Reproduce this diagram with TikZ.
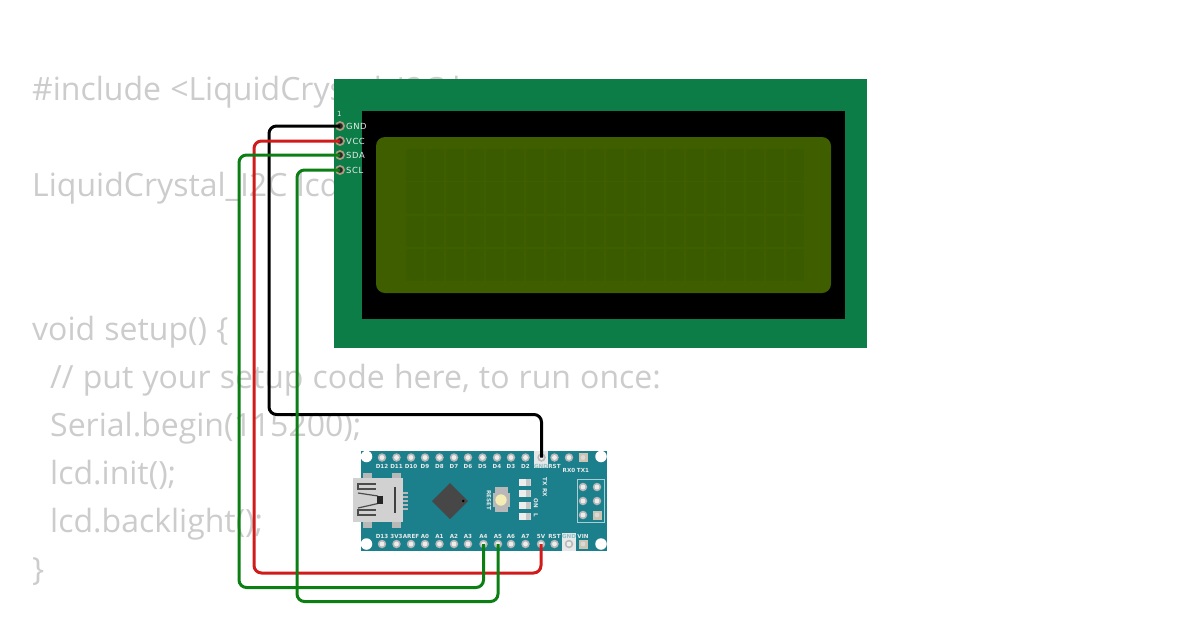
\documentclass[tikz,border=0pt]{standalone}
\usepackage{fontspec}
\setmainfont[WordSpace=1.1]{Open Sans}
\newfontfamily\pinfont{DejaVu Sans}
\newfontfamily\pinfontwide[LetterSpace=7]{DejaVu Sans}
\definecolor{codegrey}{HTML}{CCCCCC}
\definecolor{lcdgreen}{HTML}{0C7D46}
\definecolor{lcdscreen}{HTML}{3F5E00}
\definecolor{lcdcell}{HTML}{3B5B00}
\definecolor{nanoteal}{HTML}{1B7F8C}
\definecolor{wirered}{HTML}{D11A1A}
\definecolor{wiregreen}{HTML}{0B7F14}
\definecolor{padtan}{HTML}{A89C7E}
\definecolor{buttoncream}{HTML}{F3EDB4}
\definecolor{highlight}{HTML}{E4E8E8}
\definecolor{icspline}{HTML}{A9CFD6}
\definecolor{hiddentext}{HTML}{8FBFC6}
\tikzset{
  x=1pt,y=-1pt,
  codeline/.style={anchor=base west,inner sep=0pt,text=codegrey,font=\fontsize{32}{32}\selectfont},
  lcdpin/.style={circle,draw=padtan,fill=black!85,line width=1.8pt,minimum size=8pt,inner sep=0pt},
  lcdlabel/.style={anchor=west,inner sep=0pt,text=white!92!black,font=\pinfontwide\fontsize{8.4}{8}\selectfont},
  nanopin/.style={circle,fill=white!72!black,minimum size=8.5pt,inner sep=0pt,path picture={\fill[white!93!black] (path picture bounding box.center) circle (2.4pt);}},
  nanolabel/.style={inner sep=0pt,text=white!92!black,font=\pinfont\bfseries\fontsize{5.6}{6}\selectfont},
  squarepad/.style={rectangle,fill=padtan!60!white,minimum size=9pt,inner sep=0pt,path picture={\fill[white!85!black] (path picture bounding box.center) circle (2.4pt);}},
  cornerhole/.style={circle,fill=white,minimum size=11.5pt,inner sep=0pt},
  wire/.style={line width=3pt,rounded corners=7.5pt},
  ledbody/.style={rectangle,fill=white!93!black,minimum width=12pt,minimum height=7pt,inner sep=0pt,path picture={\fill[white!78!black] ([xshift=7pt]path picture bounding box.south west) rectangle (path picture bounding box.north east);}},
  whitelabel/.style={inner sep=0pt,text=white!92!black,font=\pinfont\bfseries\fontsize{5.6}{6}\selectfont},
}
\begin{document}
\begin{tikzpicture}
\useasboundingbox (0,0) rectangle (1200,630);
\fill[white] (0,0) rectangle (1200,630);

% code behind the parts
\node[codeline] (c1) at (32,100) {\#include <LiquidCrystal\_I2C.h>};
\node[codeline] (c2) at (32,196) {LiquidCrystal\_I2C lcd};
\node[codeline] (c3) at (32,340) {void setup() \{};
\node[codeline] (c4) at (50,388) {// put your setup code here, to run once:};
\node[codeline] (c5) at (50,436) {Serial.begin(115200);};
\node[codeline] (c6) at (50,484) {lcd.init();};
\node[codeline] (c7) at (50,532) {lcd.backlight();};
\node[codeline] (c8) at (32,580) {\}};

% LCD
\fill[lcdgreen] (334,79) rectangle (867,348);
\fill[black] (362,111) rectangle (845,319);
\fill[lcdscreen,rounded corners=9pt] (376,137) rectangle (831,293);
\foreach \r in {0,1,2,3} \foreach \c in {0,...,19}
  \fill[lcdcell] ({406+20*\c},{149+33.4*\r}) rectangle +(18,31.5);
\node[lcdlabel,font=\pinfont\fontsize{7}{7}\selectfont] (one) at (337,114) {1};
\node[lcdpin] (lgnd) at (340,126) {};
\node[lcdpin] (lvcc) at (340,141) {};
\node[lcdpin] (lsda) at (340,155) {};
\node[lcdpin] (lscl) at (340,170) {};
\node[lcdlabel] at (346,126) {GND};
\node[lcdlabel] at (346,141) {VCC};
\node[lcdlabel] at (346,155) {SDA};
\node[lcdlabel] at (346,170) {SCL};

% Nano board
\fill[nanoteal] (361,451) rectangle (607,551);
\fill[highlight] (533.5,451) rectangle (548,468);
\fill[highlight] (562,533) rectangle (576,551);
\node[cornerhole] at (366.5,456.5) {};
\node[cornerhole] at (366.5,544) {};
\node[cornerhole] at (601,456.5) {};
\node[cornerhole] at (601,544) {};

% top pins
\foreach \n/\x/\t in {d12/382/D12,d11/396.5/D11,d10/411/D10,d9/425/D9,d8/439.5/D8,d7/454/D7,d6/468/D6,d5/482.5/D5,d4/497/D4,d3/511/D3,d2/525.5/D2,trst/554.5/RST}{
  \node[nanopin] (\n) at (\x,457.5) {};
  \node[nanolabel] at (\x,466) {\t};
}
\node[nanopin] (ngnd) at (541.5,457.5) {};
\node[nanolabel,text=hiddentext] at (541,466) {GND};
\node[nanopin] (rx) at (569,457.5) {};
\node[squarepad] (tx) at (583,457.5) {};
\node[nanolabel] at (569,470.5) {RX0};
\node[nanolabel] at (583,470.5) {TX1};

% bottom pins
\foreach \n/\x/\t in {d13/382/D13,v33/396.5/3V3,aref/411/AREF,a0/425/A0,a1/439.5/A1,a2/454/A2,a3/468/A3,a4/483.5/A4,a5/498/A5,a6/511/A6,a7/525.5/A7,v5/541/5V,brst/554.5/RST}{
  \node[nanopin] (\n) at (\x,544) {};
  \node[nanolabel] at (\x,536) {\t};
}
\node[nanopin] (bgnd) at (569,544) {};
\node[nanolabel,text=hiddentext] at (569,536) {GND};
\node[squarepad] (vin) at (583,544) {};
\node[nanolabel] at (583,536) {VIN};

% ICSP header
\draw[icspline,line width=0.7pt] (577,479.5) rectangle (604,522);
\foreach \x in {583,597}\foreach \y in {487,501}
  \node[nanopin] at (\x,\y) {};
\node[nanopin] at (583,515) {};
\node[squarepad] at (597,515) {};

% USB connector
\fill[white!72!black] (362.5,473) rectangle (372,528);
\fill[white!72!black] (392,473) rectangle (401,528);
\foreach \y in {491.5,495.5,499.5,503.5,507.5}
  \fill[white!72!black] (403,\y) rectangle (408,\y+2.4);
\fill[white!82!black] (353,478) rectangle (403,522);
\draw[black!75,line width=1.3pt] (395,487) -- (395,513);
\draw[black!70,line width=1.2pt] (376,484) -- (358,484) -- (358,489) -- (376,489);
\draw[black!70,line width=1.2pt] (376,510) -- (358,510) -- (358,515) -- (376,515);
\draw[black!70,line width=1.2pt] (358,493) -- (378,496);
\draw[black!70,line width=1.2pt] (378,503.5) -- (358,508);
\fill[black!85] (377,496) rectangle (383,504);

% chip
\fill[black!72] (450,483) -- (468,501) -- (450,519) -- (432,501) -- cycle;
\fill[black] (463.3,501) circle (1.4pt);

% reset button
\fill[white!72!black] (493,493) rectangle (510,507);
\fill[white!72!black] (495,487) rectangle (508,512);
\fill[buttoncream] (501,500) circle (5.7pt);
\node[whitelabel,rotate=-90] at (489,500) {RESET};

% LEDs
\node[ledbody] at (524.5,482) {};
\node[ledbody] at (524.5,493.5) {};
\node[ledbody] at (524.5,505) {};
\node[ledbody] at (524.5,516.5) {};
\node[whitelabel,rotate=-90] at (545,482) {TX};
\node[whitelabel,rotate=-90] at (545,492.5) {RX};
\node[whitelabel,rotate=-90] at (536,503) {ON};
\node[whitelabel,rotate=-90] at (536,515) {L};

% wires
\coordinate (bk) at (269,414.5);
\coordinate (bv) at (254,573);
\coordinate (bd) at (239,587.5);
\coordinate (bc) at (297,601.5);
\draw[wire,black] (lgnd.center) -| (bk) -| (ngnd.center);
\draw[wire,wirered] (lvcc.center) -| (bv) -| (v5.center);
\draw[wire,wiregreen] (lsda.center) -| (bd) -| (a4.center);
\draw[wire,wiregreen] (lscl.center) -| (bc) -| (a5.center);
\end{tikzpicture}
\end{document}
